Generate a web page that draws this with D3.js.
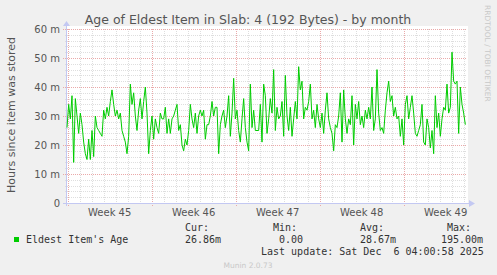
<!DOCTYPE html>
<html>
<head>
<meta charset="utf-8">
<script src="https://cdn.jsdelivr.net/npm/d3@7"></script>
<style>
  body { margin: 0; background: #f0f0f0; }
  svg { display: block; }
  text { font-family: "DejaVu Sans", sans-serif; }
  .mono { font-family: "DejaVu Sans Mono", monospace; font-size: 10px; fill: #333; }
</style>
</head>
<body>
<svg width="497" height="275"></svg>
<script>
const title = "Age of Eldest Item in Slab: 4 (192 Bytes) - by month";
const yLabel = "Hours since item was stored";
const yTicks = [0, 10, 20, 30, 40, 50, 60];
const yTickLabels = ["0", "10 m", "20 m", "30 m", "40 m", "50 m", "60 m"];
const weekLabels = ["Week 45", "Week 46", "Week 47", "Week 48", "Week 49"];
const weekStarts = ["2025-11-03", "2025-11-10", "2025-11-17", "2025-11-24", "2025-12-01"];

// samples every 200 minutes, in minutes
const sampleStart = Date.UTC(2025, 10, 2, 22, 36);
const sampleStepMin = 200;
const ageValues = [
  26,34,29,37,14,36,30,24,31,27, 21,17,15,22,15,25,16,30,26,25,
  24,23,32,29,33,30,35,39,34,30, 32,29,31,25,23,21,17,23,41,34,
  38,30,25,32,36,29,35,40,31,17, 25,30,22,29,26,24,31,29,29,33,
  24,29,24,29,30,32,34,25,27,20, 18,22,20,25,34,29,26,31,24,30,
  32,30,32,22,27,27,30,
  35,30,33,33,17,27,30,32,26,30, 37,23,31,43,29,32,25,21,29,36,
  26,21,18,41,26,32,25,25,25,34, 21,41,37,24,29,36,31,46,25,33,
  29,30,35,23,44,30,25,33,23,29, 35,29,47,39,42,29,33,32,35,41,
  29,32,26,34,29,26,31,24,32,38, 29,26,24,18,27,26,30,38,21,39,
  29,24,29,
  27,37,20,34,29,35,27,30,26,32, 29,33,29,40,25,29,46,31,25,26,
  24,32,38,42,35,37,30,33,29,30, 23,29,20,34,37,29,33,37,31,24,
  23,25,27,34,21,20,29,26,19,25, 17,37,26,31,23,29,33,32,41,31,
  33,52,42,41,42,24,40,34,31,27
];

const legendName = "Eldest Item's Age";
const legendHeads = ["Cur:", "Min:", "Avg:", "Max:"];
const legendValues = ["26.86m", "0.00", "28.67m", "195.00m"];
const lastUpdate = "Last update: Sat Dec  6 04:00:58 2025";

const svg = d3.select("svg");
const pLeft = 67, pRight = 467, pTop = 29, pBottom = 203;

const x = d3.scaleUtc()
  .domain([new Date(sampleStart), new Date(sampleStart + 800 * 3600 * 1000)])
  .range([pLeft, pRight]);
const y = d3.scaleLinear().domain([0, 60]).range([pBottom, pTop]);

const data = ageValues.map((v, i) => ({ t: new Date(sampleStart + i * sampleStepMin * 60000), v }));

// plot canvas
svg.append("rect").attr("x", pLeft).attr("y", pTop - 3).attr("width", pRight - pLeft + 1)
  .attr("height", pBottom - pTop + 3).attr("fill", "#fff");

const minorCol = "#dedede", majorCol = "#eaa9a9";
const grid = svg.append("g").attr("shape-rendering", "crispEdges").attr("stroke-dasharray", "1,1");

// horizontal grid
d3.range(2, 61, 2).forEach(v => {
  const major = v % 10 === 0;
  const yy = Math.round(y(v)) + 0.5;
  grid.append("line").attr("x1", major ? 63 : 65).attr("x2", pRight)
    .attr("y1", yy).attr("y2", yy).attr("stroke", major ? majorCol : minorCol);
});

// vertical grid: days and Mondays
const weekDates = weekStarts.map(d => new Date(d + "T00:00:00Z"));
d3.utcDay.range(x.domain()[0], x.domain()[1]).forEach(d => {
  const major = d.getUTCDay() === 1;
  const xx = Math.round(x(d)) + 0.5;
  if (xx < pLeft + 1) return;
  grid.append("line").attr("x1", xx).attr("x2", xx)
    .attr("y1", pTop).attr("y2", major ? pBottom + 3 : pBottom + 1)
    .attr("stroke", major ? majorCol : minorCol);
});

// axes
const axisCol = "#c3c8f2";
svg.append("line").attr("x1", 63).attr("x2", 469).attr("y1", pBottom + 0.5).attr("y2", pBottom + 0.5)
  .attr("stroke", axisCol).attr("shape-rendering", "crispEdges");
svg.append("path").attr("d", `M469,${pBottom - 3}L475,${pBottom + 0.5}L469,${pBottom + 4}Z`).attr("fill", axisCol);
svg.append("line").attr("x1", pLeft - 0.5).attr("x2", pLeft - 0.5).attr("y1", pBottom + 3).attr("y2", pTop - 3)
  .attr("stroke", axisCol).attr("shape-rendering", "crispEdges");
svg.append("path").attr("d", `M${pLeft - 4},${pTop - 3}L${pLeft - 0.5},${pTop - 8}L${pLeft + 3},${pTop - 3}Z`).attr("fill", axisCol);

// series
svg.append("path").datum(data)
  .attr("fill", "none").attr("stroke", "#00cc00").attr("stroke-width", 1)
  .attr("d", d3.line().x(d => x(d.t)).y(d => y(d.v)));

// y tick labels
svg.append("g").selectAll("text").data(yTicks).join("text")
  .attr("x", 60).attr("y", d => y(d) + 4)
  .attr("text-anchor", "end").attr("font-size", 10).attr("fill", "#555")
  .text((d, i) => yTickLabels[i]);

// week labels centred mid-week
svg.append("g").selectAll("text").data(weekDates).join("text")
  .attr("x", d => x(d3.utcHour.offset(d, 84)))
  .attr("y", 216).attr("text-anchor", "middle").attr("font-size", 10).attr("fill", "#555")
  .text((d, i) => weekLabels[i]);

// title and labels
svg.append("text").attr("x", 248).attr("y", 24).attr("text-anchor", "middle")
  .attr("font-size", 12.5).attr("fill", "#555").text(title);
svg.append("text").attr("transform", "translate(15,115) rotate(-90)").attr("text-anchor", "middle")
  .attr("font-size", 11).attr("fill", "#555").text(yLabel);
svg.append("text").attr("transform", "translate(485,5) rotate(90)")
  .attr("font-size", 7.5).attr("fill", "#c8c8c8").text("RRDTOOL / TOBI OETIKER");

// legend
svg.append("rect").attr("x", 14).attr("y", 237).attr("width", 5).attr("height", 5)
  .attr("fill", "#00cc00");
svg.append("text").attr("class", "mono").attr("x", 26).attr("y", 243).text(legendName);
const headX = [185, 273, 360, 447];
const valX = [185, 279, 360, 441];
legendHeads.forEach((h, i) => {
  svg.append("text").attr("class", "mono").attr("x", headX[i]).attr("y", 231).text(h);
  svg.append("text").attr("class", "mono").attr("x", valX[i]).attr("y", 243).text(legendValues[i]);
});
svg.append("text").attr("class", "mono").attr("x", 261).attr("y", 255)
  .attr("xml:space", "preserve").style("white-space", "pre").text(lastUpdate);
svg.append("text").attr("x", 248).attr("y", 268).attr("text-anchor", "middle")
  .attr("font-size", 7.5).attr("fill", "#c8c8c8").text("Munin 2.0.73");
</script>
</body>
</html>
